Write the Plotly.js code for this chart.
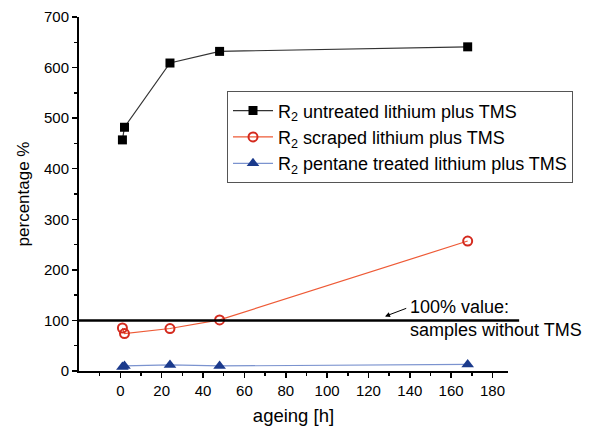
<!DOCTYPE html>
<html><head><meta charset="utf-8">
<script src="https://cdn.plot.ly/plotly-3.0.1.min.js"></script>
<style>body{margin:0;background:#fff}#c{width:590px;height:426px}</style>
</head><body><div id="c"></div>
<script>
const hours = [1, 2, 24, 48, 168];
const untreated = [457, 482, 609, 632, 641];
const scraped = [85, 74, 84, 101, 257];
const pentane = [8, 10, 12, 10, 13];
const names = ['R<sub>2</sub> untreated lithium plus TMS', 'R<sub>2</sub> scraped lithium plus TMS', 'R<sub>2</sub> pentane treated lithium plus TMS'];
const refValue = 100;

const font = 'Liberation Sans, Arial, sans-serif';
const traces = [
  {x: hours, y: untreated, name: names[0], mode: 'lines+markers',
   line: {color: '#333333', width: 1.2},
   marker: {symbol: 'square', size: 9, color: '#000000'}},
  {x: hours, y: scraped, name: names[1], mode: 'lines+markers',
   line: {color: '#ee5a36', width: 1.2},
   marker: {symbol: 'circle-open', size: 9, color: '#d42a1e', line: {width: 2, color: '#d42a1e'}}},
  {x: hours, y: pentane, name: names[2], mode: 'lines+markers',
   line: {color: '#7b93cf', width: 1.2},
   marker: {symbol: 'triangle-up', size: 11, color: '#1b3a8c'}}
];
const axisCommon = {showline: true, linecolor: '#000', linewidth: 2, ticks: 'outside', ticklen: 5, tickwidth: 1.5,
  tickcolor: '#000', showgrid: false, zeroline: false, tickfont: {family: font, size: 15, color: '#000'}};
const layout = {
  width: 590, height: 426, margin: {l: 79, r: 82, t: 17, b: 55, autoexpand: false},
  paper_bgcolor: '#fff', plot_bgcolor: '#fff',
  xaxis: Object.assign({}, axisCommon, {range: [-20, 187.5], tickvals: [0,20,40,60,80,100,120,140,160,180],
    minor: {tickvals: [-10,10,30,50,70,90,110,130,150,170], ticks: 'outside', ticklen: 3, tickwidth: 1.5, tickcolor: '#000'},
    title: {text: 'ageing [h]', font: {family: font, size: 18.5, color: '#000'}, standoff: 16}}),
  yaxis: Object.assign({}, axisCommon, {range: [0, 700], dtick: 100,
    minor: {dtick: 50, ticks: 'outside', ticklen: 3, tickwidth: 1.5, tickcolor: '#000'},
    title: {text: 'percentage %', font: {family: font, size: 17, color: '#000'}, standoff: 10}}),
  showlegend: true,
  legend: {x: 0.345, y: 0.79, xanchor: 'left', yanchor: 'top', bordercolor: '#555', borderwidth: 1,
    bgcolor: '#fff', font: {family: font, size: 18, color: '#000'}, tracegroupgap: 0, itemwidth: 40},
  shapes: [{type: 'line', xref: 'paper', yref: 'y', x0: 0, x1: 1.026, y0: refValue, y1: refValue,
    line: {color: '#000', width: 2.5}}],
  annotations: [{xref: 'x', yref: 'y', x: 128, y: 108, ax: 139, ay: 125, axref: 'x', ayref: 'y',
    showarrow: true, arrowhead: 2, arrowsize: 1, arrowwidth: 1, arrowcolor: '#000', text: ''},
    {xref: 'x', yref: 'y', x: 139, y: refValue + 4, xanchor: 'left', yanchor: 'middle', align: 'left', showarrow: false,
    text: '100% value:<br>samples without TMS', font: {family: font, size: 18, color: '#000'}}]
};
Plotly.newPlot('c', traces, layout, {displayModeBar: false, staticPlot: true});
</script></body></html>
